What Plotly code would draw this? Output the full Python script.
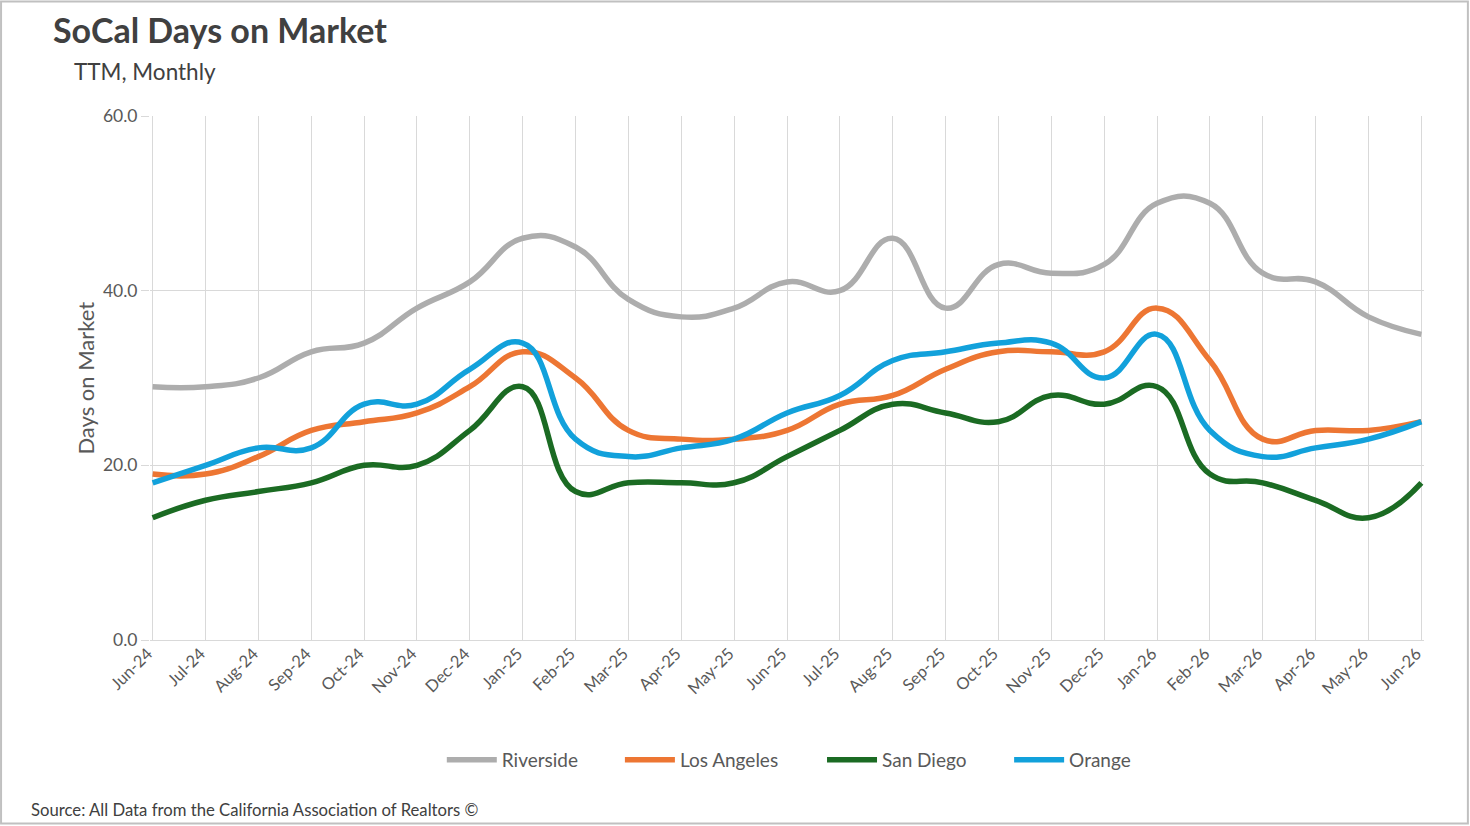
import plotly.graph_objects as go

months = ["Jun-24", "Jul-24", "Aug-24", "Sep-24", "Oct-24", "Nov-24", "Dec-24",
          "Jan-25", "Feb-25", "Mar-25", "Apr-25", "May-25", "Jun-25", "Jul-25",
          "Aug-25", "Sep-25", "Oct-25", "Nov-25", "Dec-25", "Jan-26", "Feb-26",
          "Mar-26", "Apr-26", "May-26", "Jun-26"]

riverside = [29, 29, 30, 33, 34, 38, 41, 46, 45, 39, 37, 38, 41, 40, 46, 38, 43, 42, 43, 50, 50, 42, 41, 37, 35]
los_angeles = [19, 19, 21, 24, 25, 26, 29, 33, 30, 24, 23, 23, 24, 27, 28, 31, 33, 33, 33, 38, 32, 23, 24, 24, 25]
san_diego = [14, 16, 17, 18, 20, 20, 24, 29, 17, 18, 18, 18, 21, 24, 27, 26, 25, 28, 27, 29, 19, 18, 16, 14, 18]
orange = [18, 20, 22, 22, 27, 27, 31, 34, 23, 21, 22, 23, 26, 28, 32, 33, 34, 34, 30, 35, 24, 21, 22, 23, 25]

series_names = ["Riverside", "Los Angeles", "San Diego", "Orange"]
series_values = [riverside, los_angeles, san_diego, orange]
series_colors = ["#ADADAD", "#ED7633", "#1B6B23", "#12A1DB"]
legend_text_px = [502, 680, 882, 1069]

W, H = 1470, 826
PAD = 0.05
UNIT = (1421 - 153) / 24.0
L = 153 - PAD * UNIT
R = W - (1421 + PAD * UNIT)
T = 116
B = H - 640

def px(x):
    return (x - L) / (W - L - R)

def py(y):
    return (640 - y) / (640 - 116)

FONT = "Lato"
TXT = "#595959"
ITEMW = 50

fig = go.Figure()
legend_layouts = {}
for i, (name, vals, col) in enumerate(zip(series_names, series_values, series_colors)):
    lg = "legend" if i == 0 else f"legend{i + 1}"
    fig.add_trace(go.Scatter(
        x=months, y=vals, name=name, mode="lines", legend=lg,
        line=dict(color=col, width=5.5, shape="spline", smoothing=1.3),
    ))
    legend_layouts[lg] = dict(
        orientation="h", x=px(legend_text_px[i] - ITEMW - 10), xanchor="left",
        y=py(760), yanchor="middle", itemwidth=ITEMW,
        font=dict(family=FONT, size=19, color=TXT),
        bgcolor="rgba(0,0,0,0)", borderwidth=0,
    )

fig.update_layout(
    width=W, height=H,
    margin=dict(l=L, r=R, t=T, b=B, autoexpand=False),
    paper_bgcolor="white", plot_bgcolor="white",
    font=dict(family=FONT, color=TXT),
    showlegend=True,
    xaxis=dict(
        type="category", range=[-PAD, 24 + PAD],
        showgrid=True, gridcolor="#D9D9D9", gridwidth=1,
        tickangle=-45, tickfont=dict(family=FONT, size=16.5, color=TXT),
        ticklabelshift=-5,
        ticks="", showline=False, zeroline=False,
    ),
    yaxis=dict(
        range=[0, 60], dtick=20, tickformat=".1f",
        showgrid=True, gridcolor="#D9D9D9", gridwidth=1,
        ticks="outside", ticklen=8, tickcolor="#D9D9D9",
        tickfont=dict(family=FONT, size=17.5, color=TXT),
        showline=False, zeroline=True, zerolinecolor="#D9D9D9", zerolinewidth=1,
    ),
    annotations=[
        dict(text="<b>SoCal Days on Market</b>", xref="paper", yref="paper",
             x=px(51), y=py(29), xanchor="left", yanchor="middle", showarrow=False,
             font=dict(family=FONT, size=34, color="#404040")),
        dict(text="TTM, Monthly", xref="paper", yref="paper",
             x=px(72), y=py(71), xanchor="left", yanchor="middle", showarrow=False,
             font=dict(family=FONT, size=22.5, color="#404040")),
        dict(text="Days on Market", xref="paper", yref="paper",
             x=px(85), y=py(378), xanchor="center", yanchor="middle", showarrow=False,
             textangle=-90, font=dict(family=FONT, size=22, color=TXT)),
        dict(text="Source: All Data from the California Association of Realtors ©",
             xref="paper", yref="paper",
             x=px(29), y=py(810), xanchor="left", yanchor="middle", showarrow=False,
             font=dict(family=FONT, size=16.7, color="#404040")),
    ],
    shapes=[
        dict(type="rect", xref="paper", yref="paper",
             x0=px(1.5), x1=px(1467.5), y0=py(823.5), y1=py(1.5),
             line=dict(color="#C0C0C0", width=2), fillcolor="rgba(0,0,0,0)", layer="below"),
    ],
    **legend_layouts,
)

fig.write_html("out.html", config={"displayModeBar": False},
               post_script="document.body.style.margin='0';document.body.style.padding='0';")
